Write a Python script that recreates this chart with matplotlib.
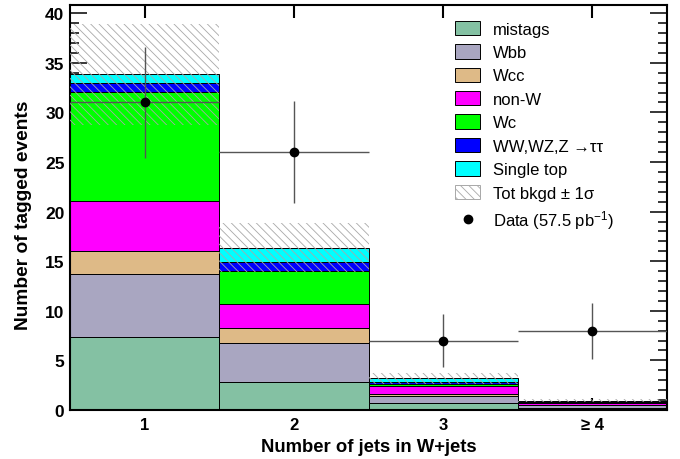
import numpy as np
import matplotlib
matplotlib.use("Agg")
import matplotlib.pyplot as plt
from matplotlib.patches import Patch
from matplotlib.lines import Line2D

plt.rcParams['font.family'] = ['Liberation Sans', 'DejaVu Sans']
plt.rcParams['hatch.linewidth'] = 0.6
plt.rcParams['mathtext.fontset'] = 'custom'
plt.rcParams['mathtext.rm'] = 'Liberation Sans'
plt.rcParams['mathtext.it'] = 'Liberation Sans:italic'

# Jet multiplicity bins
bins = [1, 2, 3, 4]
bin_labels = ["1", "2", "3", "≥ 4"]

# Cumulative stack tops per background process (bottom to top)
processes = ["mistags", "Wbb", "Wcc", "non-W", "Wc",
             "WW,WZ,Z →ττ", "Single top"]
colors = ["#84c1a3", "#a9a6c1", "#deba87", "#ff00ff", "#00ff00", "#0000ff", "#00ffff"]
stack_tops = [
    [7.35, 2.85, 0.68, 0.2],   # mistags
    [13.67, 6.72, 1.44, 0.5],  # Wbb
    [16.0, 8.23, 1.61, 0.55],  # Wcc
    [21.1, 10.68, 2.39, 0.68], # non-W
    [32.07, 14.04, 2.62, 0.75],# Wc
    [32.95, 14.88, 2.85, 0.8], # WW,WZ,Z->tautau
    [33.83, 16.35, 3.19, 0.94],# Single top
]
bkg_err = [5.13, 2.46, 0.54, 0.15]

# Observed data
data = [31, 26, 7, 8]
data_err = [5.6, 5.1, 2.65, 2.83]

fig = plt.figure(figsize=(6.8, 4.6), dpi=100)
ax = fig.add_axes([0.103, 0.1065, 0.878, 0.881])

prev = np.zeros(len(bins))
for name, col, top in zip(processes, colors, stack_tops):
    top = np.array(top)
    ax.bar(bins, top - prev, bottom=prev, width=1.0, color=col,
           edgecolor="black", linewidth=0.7, zorder=2)
    prev = top

total = np.array(stack_tops[-1])
err = np.array(bkg_err)
ax.bar(bins, 2 * err, bottom=total - err, width=1.0, facecolor="none",
       edgecolor="#a8a8a8", hatch="\\\\\\\\", linewidth=0, zorder=3)

ax.errorbar(bins, data, xerr=0.5, yerr=data_err, fmt="o", color="black",
            ecolor="#555555", elinewidth=1.0, markersize=6, capsize=0, zorder=4)

ax.set_xlim(0.5, 4.5)
ax.set_ylim(0, 40.85)
ax.set_xticks(bins)
ax.set_xticklabels(bin_labels, fontsize=12, fontweight="bold")
ax.set_yticks(np.arange(0, 41, 5))
ax.set_yticks(np.arange(0, 41, 1), minor=True)
for lab in ax.get_yticklabels():
    lab.set_fontweight("bold")
    lab.set_fontsize(12.5)
ax.tick_params(axis="both", which="both", direction="in", top=True, right=True)
ax.tick_params(axis="y", which="major", length=12.5, width=1.1, pad=4)
ax.tick_params(axis="y", which="minor", length=6.5, width=1.1)
ax.tick_params(axis="x", which="major", length=9, width=1.5, pad=5)
for s in ax.spines.values():
    s.set_linewidth(1.5)

ax.set_xlabel("Number of jets in W+jets", fontsize=13.3, fontweight="bold", labelpad=4)
ax.set_ylabel("Number of tagged events", fontsize=13.8, fontweight="bold")
ax.yaxis.set_label_coords(-0.064, 0.483)

handles = [Patch(facecolor=c, edgecolor="black", linewidth=0.7) for c in colors]
labels = list(processes)
handles.append(Patch(facecolor="white", edgecolor="#a8a8a8", hatch="\\\\\\\\", linewidth=0.7))
labels.append("Tot bkgd ± 1σ")
handles.append(Line2D([], [], marker="o", color="black", linestyle="none", markersize=6))
labels.append(r"Data (57.5 pb$^{-1}$)")
ax.legend(handles, labels, loc="upper left", bbox_to_anchor=(0.633, 0.977),
          frameon=False, fontsize=12, handlelength=1.55, handleheight=0.95,
          labelspacing=0.45, handletextpad=0.75, borderaxespad=0)

fig.savefig("out.png", dpi=100)
